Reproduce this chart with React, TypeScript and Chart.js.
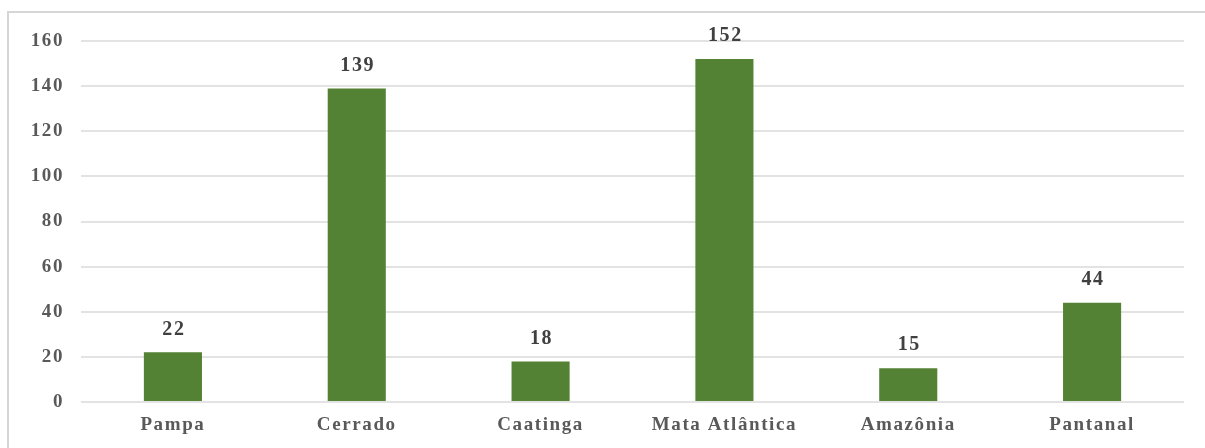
import React, { useEffect, useRef } from "react";
import { Chart, registerables } from "chart.js";

Chart.register(...registerables);

const categories = ["Pampa", "Cerrado", "Caatinga", "Mata Atlântica", "Amazônia", "Pantanal"];
const values = [22, 139, 18, 152, 15, 44];
const yTicks = [0, 20, 40, 60, 80, 100, 120, 140, 160];

const FONT = "'Liberation Serif', 'Times New Roman', serif";

const spacingPlugin = {
  id: "spacing",
  beforeUpdate(chart: any) {
    chart.ctx.letterSpacing = "1.6px";
  },
  beforeDraw(chart: any) {
    chart.ctx.letterSpacing = "1.6px";
  },
};

const labelPlugin = {
  id: "barLabels",
  afterDatasetsDraw(chart: any) {
    const ctx = chart.ctx;
    const meta = chart.getDatasetMeta(0);
    ctx.save();
    ctx.letterSpacing = "1.6px";
    ctx.font = `bold 20px ${FONT}`;
    ctx.fillStyle = "#404040";
    ctx.textAlign = "center";
    ctx.textBaseline = "middle";
    meta.data.forEach((bar: any, i: number) => {
      ctx.fillText(String(values[i]), bar.x + 1, bar.y - 23);
    });
    ctx.restore();
  },
};

export default function App() {
  const ref = useRef<HTMLCanvasElement>(null);
  useEffect(() => {
    if (!ref.current) return;
    const chart = new Chart(ref.current, {
      type: "bar",
      data: {
        labels: categories,
        datasets: [
          {
            data: values,
            backgroundColor: "#548235",
            categoryPercentage: 1,
            barPercentage: 0.316,
          },
        ],
      },
      options: {
        responsive: false,
        animation: false,
        layout: { padding: { left: 0, top: 41, right: 21, bottom: 0 } },
        plugins: {
          legend: { display: false },
          tooltip: { enabled: false },
        },
        scales: {
          x: {
            grid: { display: false, drawTicks: false },
            border: { display: false },
            ticks: {
              color: "#595959",
              font: { family: FONT, size: 19, weight: "bold" },
              padding: 12,
              maxRotation: 0,
              autoSkip: false,
            },
            afterFit(scale: any) {
              scale.height = 46;
            },
          },
          y: {
            min: 0,
            max: 160,
            afterBuildTicks(scale: any) {
              scale.ticks = yTicks.map((v) => ({ value: v }));
            },
            grid: { color: "#e3e3e3", lineWidth: 2, drawTicks: false },
            border: { display: false },
            ticks: {
              color: "#595959",
              font: { family: FONT, size: 19, weight: "bold" },
              padding: 17,
            },
            afterFit(scale: any) {
              scale.width = 81;
            },
          },
        },
      },
      plugins: [spacingPlugin, labelPlugin],
    } as any);
    return () => chart.destroy();
  }, []);

  return (
    <div style={{ position: "absolute", left: 0, top: 0, width: 1205, height: 448, overflow: "hidden", background: "#fff" }}>
      <div
        style={{
          position: "absolute",
          left: 7,
          top: 11,
          width: 1300,
          height: 500,
          borderLeft: "2px solid #d6d6d6",
          borderTop: "2px solid #d6d6d6",
        }}
      />
      <canvas ref={ref} width={1205} height={448} style={{ position: "absolute", left: 0, top: 0 }} />
    </div>
  );
}
